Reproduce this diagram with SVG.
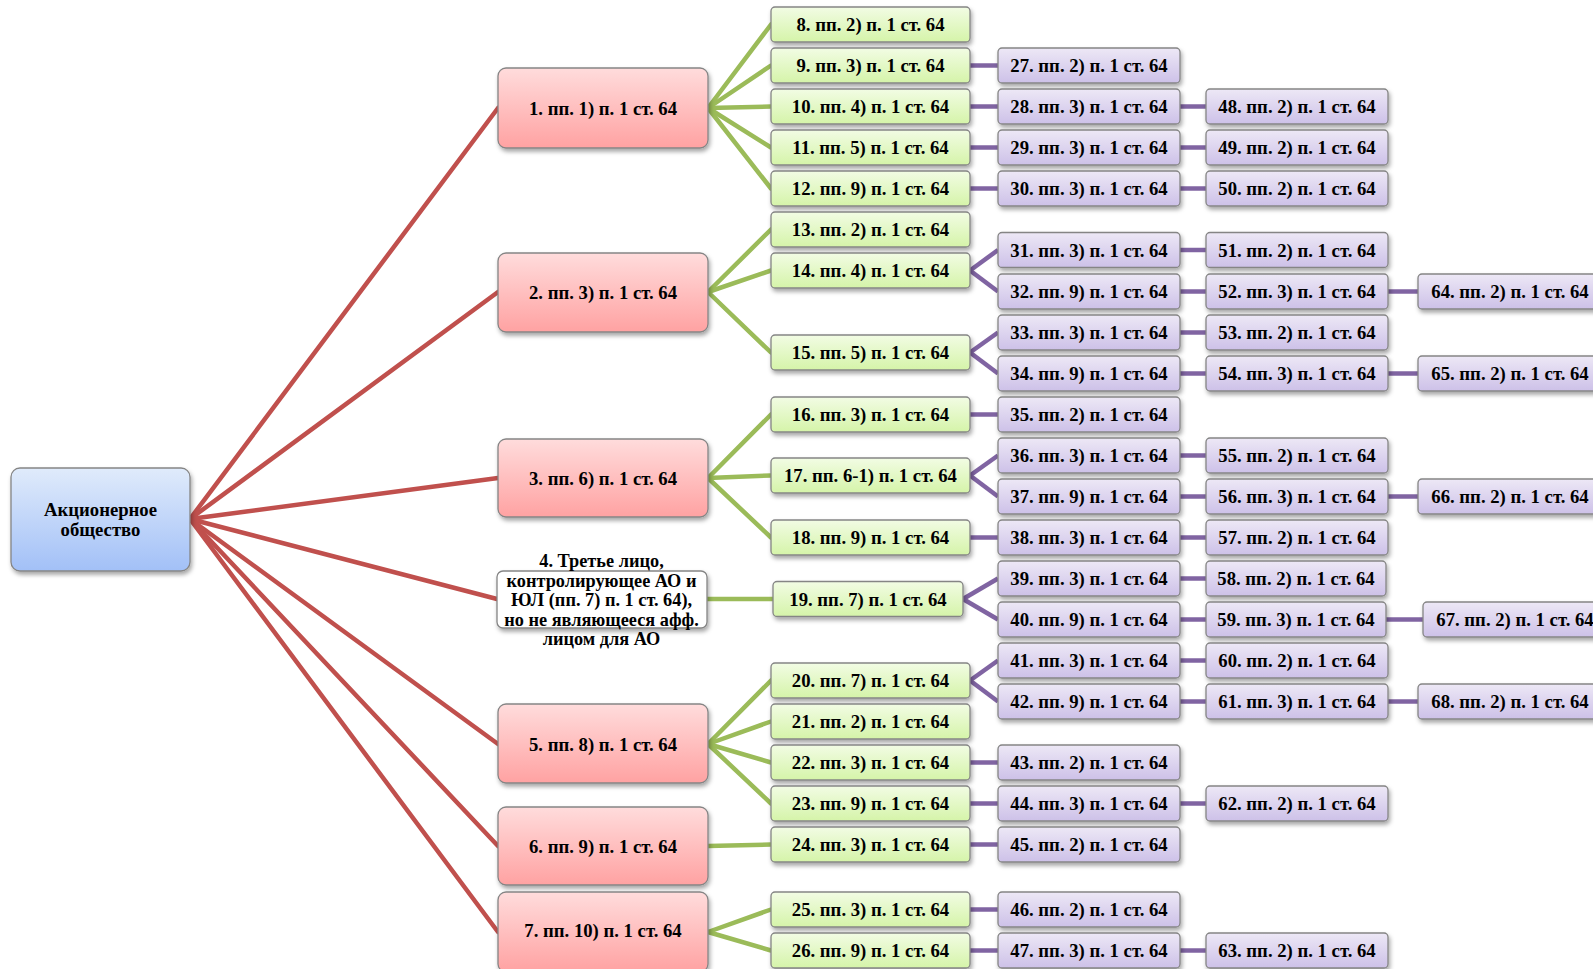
<svg xmlns="http://www.w3.org/2000/svg" width="1593" height="969" viewBox="0 0 1593 969">
<defs>
<linearGradient id="gB" x1="0" y1="0" x2="0" y2="1"><stop offset="0" stop-color="#e0ebfb"/><stop offset="1" stop-color="#a2c0f7"/></linearGradient>
<linearGradient id="gR" x1="0" y1="0" x2="0" y2="1"><stop offset="0" stop-color="#ffdcdc"/><stop offset="1" stop-color="#ffa2a2"/></linearGradient>
<linearGradient id="gG" x1="0" y1="0" x2="0" y2="1"><stop offset="0" stop-color="#f2fce4"/><stop offset="1" stop-color="#d5f4a9"/></linearGradient>
<linearGradient id="gP" x1="0" y1="0" x2="0" y2="1"><stop offset="0" stop-color="#ede8f6"/><stop offset="1" stop-color="#cdc1e8"/></linearGradient>
<filter id="sh" x="-10%" y="-20%" width="130%" height="160%"><feDropShadow dx="1.5" dy="3" stdDeviation="2" flood-color="#000" flood-opacity="0.35"/></filter>
</defs>
<style>
rect{stroke:#858585;stroke-width:1.3;filter:url(#sh)}
.b rect{fill:url(#gB);}
.r rect{fill:url(#gR);}
.g rect{fill:url(#gG);}
.p rect{fill:url(#gP);}
.w rect{fill:#ffffff;}
text{font-family:"Liberation Serif","Times New Roman",serif;font-weight:bold;font-size:18.7px;text-anchor:middle;fill:#000}
.cr line{stroke:#c0504d;stroke-width:4.5;stroke-linecap:round}
.cg line{stroke:#9bbb59;stroke-width:4.5;stroke-linecap:round}
.cp line{stroke:#8064a2;stroke-width:4.5}
</style>
<g id="connectors">
<g class="cr">
<line x1="190" y1="519" x2="498" y2="108"/>
<line x1="190" y1="519" x2="498" y2="292"/>
<line x1="190" y1="519" x2="498" y2="478"/>
<line x1="190" y1="519" x2="497" y2="599"/>
<line x1="190" y1="519" x2="498" y2="744"/>
<line x1="190" y1="519" x2="498" y2="846"/>
<line x1="190" y1="519" x2="498" y2="932"/>
</g>
<g class="cg">
<line x1="708" y1="108" x2="771" y2="24.5"/>
<line x1="708" y1="108" x2="771" y2="65.5"/>
<line x1="708" y1="108" x2="771" y2="106.5"/>
<line x1="708" y1="108" x2="771" y2="147.5"/>
<line x1="708" y1="108" x2="771" y2="188.5"/>
<line x1="708" y1="292" x2="771" y2="229.5"/>
<line x1="708" y1="292" x2="771" y2="270.5"/>
<line x1="708" y1="292" x2="771" y2="352.5"/>
<line x1="708" y1="478" x2="771" y2="414.5"/>
<line x1="708" y1="478" x2="771" y2="475.5"/>
<line x1="708" y1="478" x2="771" y2="537.5"/>
<line x1="707" y1="599" x2="773" y2="599"/>
<line x1="708" y1="744" x2="771" y2="680.5"/>
<line x1="708" y1="744" x2="771" y2="721.5"/>
<line x1="708" y1="744" x2="771" y2="762.5"/>
<line x1="708" y1="744" x2="771" y2="803.5"/>
<line x1="708" y1="846" x2="771" y2="844.5"/>
<line x1="708" y1="932" x2="771" y2="909.5"/>
<line x1="708" y1="932" x2="771" y2="950.5"/>
</g>
<g class="cp">
<line x1="970" y1="65.5" x2="998" y2="65.5"/>
<line x1="970" y1="106.5" x2="998" y2="106.5"/>
<line x1="970" y1="147.5" x2="998" y2="147.5"/>
<line x1="970" y1="188.5" x2="998" y2="188.5"/>
<line x1="970" y1="270.5" x2="998" y2="250"/>
<line x1="970" y1="270.5" x2="998" y2="291.5"/>
<line x1="970" y1="352.5" x2="998" y2="332.5"/>
<line x1="970" y1="352.5" x2="998" y2="373.5"/>
<line x1="970" y1="414.5" x2="998" y2="414.5"/>
<line x1="970" y1="475.5" x2="998" y2="455.5"/>
<line x1="970" y1="475.5" x2="998" y2="496.5"/>
<line x1="970" y1="537.5" x2="998" y2="537.5"/>
<line x1="963" y1="599" x2="998" y2="578.5"/>
<line x1="963" y1="599" x2="998" y2="619.5"/>
<line x1="970" y1="680.5" x2="998" y2="660.5"/>
<line x1="970" y1="680.5" x2="998" y2="701.5"/>
<line x1="970" y1="762.5" x2="998" y2="762.5"/>
<line x1="970" y1="803.5" x2="998" y2="803.5"/>
<line x1="970" y1="844.5" x2="998" y2="844.5"/>
<line x1="970" y1="909.5" x2="998" y2="909.5"/>
<line x1="970" y1="950.5" x2="998" y2="950.5"/>
<line x1="1180" y1="106.5" x2="1206" y2="106.5"/>
<line x1="1180" y1="147.5" x2="1206" y2="147.5"/>
<line x1="1180" y1="188.5" x2="1206" y2="188.5"/>
<line x1="1180" y1="250" x2="1206" y2="250"/>
<line x1="1180" y1="291.5" x2="1206" y2="291.5"/>
<line x1="1180" y1="332.5" x2="1206" y2="332.5"/>
<line x1="1180" y1="373.5" x2="1206" y2="373.5"/>
<line x1="1180" y1="455.5" x2="1206" y2="455.5"/>
<line x1="1180" y1="496.5" x2="1206" y2="496.5"/>
<line x1="1180" y1="537.5" x2="1206" y2="537.5"/>
<line x1="1180" y1="578.5" x2="1206" y2="578.5"/>
<line x1="1180" y1="619.5" x2="1206" y2="619.5"/>
<line x1="1180" y1="660.5" x2="1206" y2="660.5"/>
<line x1="1180" y1="701.5" x2="1206" y2="701.5"/>
<line x1="1180" y1="803.5" x2="1206" y2="803.5"/>
<line x1="1180" y1="950.5" x2="1206" y2="950.5"/>
<line x1="1388" y1="291.5" x2="1418" y2="291.5"/>
<line x1="1388" y1="373.5" x2="1418" y2="373.5"/>
<line x1="1388" y1="496.5" x2="1418" y2="496.5"/>
<line x1="1386" y1="619.5" x2="1423" y2="619.5"/>
<line x1="1388" y1="701.5" x2="1418" y2="701.5"/>
</g>
</g>

<g id="n0" class="b"><rect x="11" y="468" width="179" height="103" rx="9"/><text x="100.5" y="516">Акционерное</text><text x="100.5" y="536">общество</text></g>

<g id="n1" class="r"><rect x="498" y="68" width="210" height="80" rx="8"/><text x="603" y="114.5">1. пп. 1) п. 1 ст. 64</text></g>
<g id="n2" class="r"><rect x="498" y="253" width="210" height="79" rx="8"/><text x="603" y="298.5">2. пп. 3) п. 1 ст. 64</text></g>
<g id="n3" class="r"><rect x="498" y="439" width="210" height="78" rx="8"/><text x="603" y="484.5">3. пп. 6) п. 1 ст. 64</text></g>
<g id="n4" class="w"><rect x="497" y="571" width="210" height="57" rx="6"/><text x="601.5" y="567" style="font-size:18.3px">4. Третье лицо,</text><text x="601.5" y="586.5" style="font-size:18.3px">контролирующее АО и</text><text x="601.5" y="606" style="font-size:18.3px">ЮЛ (пп. 7) п. 1 ст. 64),</text><text x="601.5" y="625.5" style="font-size:18.3px">но не являющееся афф.</text><text x="601.5" y="645" style="font-size:18.3px">лицом для АО</text></g>
<g id="n5" class="r"><rect x="498" y="704" width="210" height="79" rx="8"/><text x="603" y="750.5">5. пп. 8) п. 1 ст. 64</text></g>
<g id="n6" class="r"><rect x="498" y="807" width="210" height="78" rx="8"/><text x="603" y="852.5">6. пп. 9) п. 1 ст. 64</text></g>
<g id="n7" class="r"><rect x="498" y="892" width="210" height="80" rx="8"/><text x="603" y="937">7. пп. 10) п. 1 ст. 64</text></g>

<g id="n8" class="g"><rect x="771" y="7" width="199" height="35" rx="4"/><text x="870.5" y="31">8. пп. 2) п. 1 ст. 64</text></g>
<g id="n9" class="g"><rect x="771" y="48" width="199" height="35" rx="4"/><text x="870.5" y="72">9. пп. 3) п. 1 ст. 64</text></g>
<g id="n10" class="g"><rect x="771" y="89" width="199" height="35" rx="4"/><text x="870.5" y="113">10. пп. 4) п. 1 ст. 64</text></g>
<g id="n11" class="g"><rect x="771" y="130" width="199" height="35" rx="4"/><text x="870.5" y="154">11. пп. 5) п. 1 ст. 64</text></g>
<g id="n12" class="g"><rect x="771" y="171" width="199" height="35" rx="4"/><text x="870.5" y="195">12. пп. 9) п. 1 ст. 64</text></g>
<g id="n13" class="g"><rect x="771" y="212" width="199" height="35" rx="4"/><text x="870.5" y="236">13. пп. 2) п. 1 ст. 64</text></g>
<g id="n14" class="g"><rect x="771" y="253" width="199" height="35" rx="4"/><text x="870.5" y="277">14. пп. 4) п. 1 ст. 64</text></g>
<g id="n15" class="g"><rect x="771" y="335" width="199" height="35" rx="4"/><text x="870.5" y="359">15. пп. 5) п. 1 ст. 64</text></g>
<g id="n16" class="g"><rect x="771" y="397" width="199" height="35" rx="4"/><text x="870.5" y="421">16. пп. 3) п. 1 ст. 64</text></g>
<g id="n17" class="g"><rect x="771" y="458" width="199" height="35" rx="4"/><text x="870.5" y="482">17. пп. 6-1) п. 1 ст. 64</text></g>
<g id="n18" class="g"><rect x="771" y="520" width="199" height="35" rx="4"/><text x="870.5" y="544">18. пп. 9) п. 1 ст. 64</text></g>
<g id="n19" class="g"><rect x="773" y="581.5" width="190" height="35" rx="4"/><text x="868" y="605.5">19. пп. 7) п. 1 ст. 64</text></g>
<g id="n20" class="g"><rect x="771" y="663" width="199" height="35" rx="4"/><text x="870.5" y="687">20. пп. 7) п. 1 ст. 64</text></g>
<g id="n21" class="g"><rect x="771" y="704" width="199" height="35" rx="4"/><text x="870.5" y="728">21. пп. 2) п. 1 ст. 64</text></g>
<g id="n22" class="g"><rect x="771" y="745" width="199" height="35" rx="4"/><text x="870.5" y="769">22. пп. 3) п. 1 ст. 64</text></g>
<g id="n23" class="g"><rect x="771" y="786" width="199" height="35" rx="4"/><text x="870.5" y="810">23. пп. 9) п. 1 ст. 64</text></g>
<g id="n24" class="g"><rect x="771" y="827" width="199" height="35" rx="4"/><text x="870.5" y="851">24. пп. 3) п. 1 ст. 64</text></g>
<g id="n25" class="g"><rect x="771" y="892" width="199" height="35" rx="4"/><text x="870.5" y="916">25. пп. 3) п. 1 ст. 64</text></g>
<g id="n26" class="g"><rect x="771" y="933" width="199" height="35" rx="4"/><text x="870.5" y="957">26. пп. 9) п. 1 ст. 64</text></g>

<g id="n27" class="p"><rect x="998" y="48" width="182" height="35" rx="4"/><text x="1089" y="72">27. пп. 2) п. 1 ст. 64</text></g>
<g id="n28" class="p"><rect x="998" y="89" width="182" height="35" rx="4"/><text x="1089" y="113">28. пп. 3) п. 1 ст. 64</text></g>
<g id="n29" class="p"><rect x="998" y="130" width="182" height="35" rx="4"/><text x="1089" y="154">29. пп. 3) п. 1 ст. 64</text></g>
<g id="n30" class="p"><rect x="998" y="171" width="182" height="35" rx="4"/><text x="1089" y="195">30. пп. 3) п. 1 ст. 64</text></g>
<g id="n31" class="p"><rect x="998" y="232.5" width="182" height="35" rx="4"/><text x="1089" y="256.5">31. пп. 3) п. 1 ст. 64</text></g>
<g id="n32" class="p"><rect x="998" y="274" width="182" height="35" rx="4"/><text x="1089" y="298">32. пп. 9) п. 1 ст. 64</text></g>
<g id="n33" class="p"><rect x="998" y="315" width="182" height="35" rx="4"/><text x="1089" y="339">33. пп. 3) п. 1 ст. 64</text></g>
<g id="n34" class="p"><rect x="998" y="356" width="182" height="35" rx="4"/><text x="1089" y="380">34. пп. 9) п. 1 ст. 64</text></g>
<g id="n35" class="p"><rect x="998" y="397" width="182" height="35" rx="4"/><text x="1089" y="421">35. пп. 2) п. 1 ст. 64</text></g>
<g id="n36" class="p"><rect x="998" y="438" width="182" height="35" rx="4"/><text x="1089" y="462">36. пп. 3) п. 1 ст. 64</text></g>
<g id="n37" class="p"><rect x="998" y="479" width="182" height="35" rx="4"/><text x="1089" y="503">37. пп. 9) п. 1 ст. 64</text></g>
<g id="n38" class="p"><rect x="998" y="520" width="182" height="35" rx="4"/><text x="1089" y="544">38. пп. 3) п. 1 ст. 64</text></g>
<g id="n39" class="p"><rect x="998" y="561" width="182" height="35" rx="4"/><text x="1089" y="585">39. пп. 3) п. 1 ст. 64</text></g>
<g id="n40" class="p"><rect x="998" y="602" width="182" height="35" rx="4"/><text x="1089" y="626">40. пп. 9) п. 1 ст. 64</text></g>
<g id="n41" class="p"><rect x="998" y="643" width="182" height="35" rx="4"/><text x="1089" y="667">41. пп. 3) п. 1 ст. 64</text></g>
<g id="n42" class="p"><rect x="998" y="684" width="182" height="35" rx="4"/><text x="1089" y="708">42. пп. 9) п. 1 ст. 64</text></g>
<g id="n43" class="p"><rect x="998" y="745" width="182" height="35" rx="4"/><text x="1089" y="769">43. пп. 2) п. 1 ст. 64</text></g>
<g id="n44" class="p"><rect x="998" y="786" width="182" height="35" rx="4"/><text x="1089" y="810">44. пп. 3) п. 1 ст. 64</text></g>
<g id="n45" class="p"><rect x="998" y="827" width="182" height="35" rx="4"/><text x="1089" y="851">45. пп. 2) п. 1 ст. 64</text></g>
<g id="n46" class="p"><rect x="998" y="892" width="182" height="35" rx="4"/><text x="1089" y="916">46. пп. 2) п. 1 ст. 64</text></g>
<g id="n47" class="p"><rect x="998" y="933" width="182" height="35" rx="4"/><text x="1089" y="957">47. пп. 3) п. 1 ст. 64</text></g>

<g id="n48" class="p"><rect x="1206" y="89" width="182" height="35" rx="4"/><text x="1297" y="113">48. пп. 2) п. 1 ст. 64</text></g>
<g id="n49" class="p"><rect x="1206" y="130" width="182" height="35" rx="4"/><text x="1297" y="154">49. пп. 2) п. 1 ст. 64</text></g>
<g id="n50" class="p"><rect x="1206" y="171" width="182" height="35" rx="4"/><text x="1297" y="195">50. пп. 2) п. 1 ст. 64</text></g>
<g id="n51" class="p"><rect x="1206" y="232.5" width="182" height="35" rx="4"/><text x="1297" y="256.5">51. пп. 2) п. 1 ст. 64</text></g>
<g id="n52" class="p"><rect x="1206" y="274" width="182" height="35" rx="4"/><text x="1297" y="298">52. пп. 3) п. 1 ст. 64</text></g>
<g id="n53" class="p"><rect x="1206" y="315" width="182" height="35" rx="4"/><text x="1297" y="339">53. пп. 2) п. 1 ст. 64</text></g>
<g id="n54" class="p"><rect x="1206" y="356" width="182" height="35" rx="4"/><text x="1297" y="380">54. пп. 3) п. 1 ст. 64</text></g>
<g id="n55" class="p"><rect x="1206" y="438" width="182" height="35" rx="4"/><text x="1297" y="462">55. пп. 2) п. 1 ст. 64</text></g>
<g id="n56" class="p"><rect x="1206" y="479" width="182" height="35" rx="4"/><text x="1297" y="503">56. пп. 3) п. 1 ст. 64</text></g>
<g id="n57" class="p"><rect x="1206" y="520" width="182" height="35" rx="4"/><text x="1297" y="544">57. пп. 2) п. 1 ст. 64</text></g>
<g id="n58" class="p"><rect x="1206" y="561" width="180" height="35" rx="4"/><text x="1296" y="585">58. пп. 2) п. 1 ст. 64</text></g>
<g id="n59" class="p"><rect x="1206" y="602" width="180" height="35" rx="4"/><text x="1296" y="626">59. пп. 3) п. 1 ст. 64</text></g>
<g id="n60" class="p"><rect x="1206" y="643" width="182" height="35" rx="4"/><text x="1297" y="667">60. пп. 2) п. 1 ст. 64</text></g>
<g id="n61" class="p"><rect x="1206" y="684" width="182" height="35" rx="4"/><text x="1297" y="708">61. пп. 3) п. 1 ст. 64</text></g>
<g id="n62" class="p"><rect x="1206" y="786" width="182" height="35" rx="4"/><text x="1297" y="810">62. пп. 2) п. 1 ст. 64</text></g>
<g id="n63" class="p"><rect x="1206" y="933" width="182" height="35" rx="4"/><text x="1297" y="957">63. пп. 2) п. 1 ст. 64</text></g>

<g id="n64" class="p"><rect x="1418" y="274" width="186" height="35" rx="4"/><text x="1510" y="298">64. пп. 2) п. 1 ст. 64</text></g>
<g id="n65" class="p"><rect x="1418" y="356" width="186" height="35" rx="4"/><text x="1510" y="380">65. пп. 2) п. 1 ст. 64</text></g>
<g id="n66" class="p"><rect x="1418" y="479" width="186" height="35" rx="4"/><text x="1510" y="503">66. пп. 2) п. 1 ст. 64</text></g>
<g id="n67" class="p"><rect x="1423" y="602" width="186" height="35" rx="4"/><text x="1515" y="626">67. пп. 2) п. 1 ст. 64</text></g>
<g id="n68" class="p"><rect x="1418" y="684" width="186" height="35" rx="4"/><text x="1510" y="708">68. пп. 2) п. 1 ст. 64</text></g>
</svg>
